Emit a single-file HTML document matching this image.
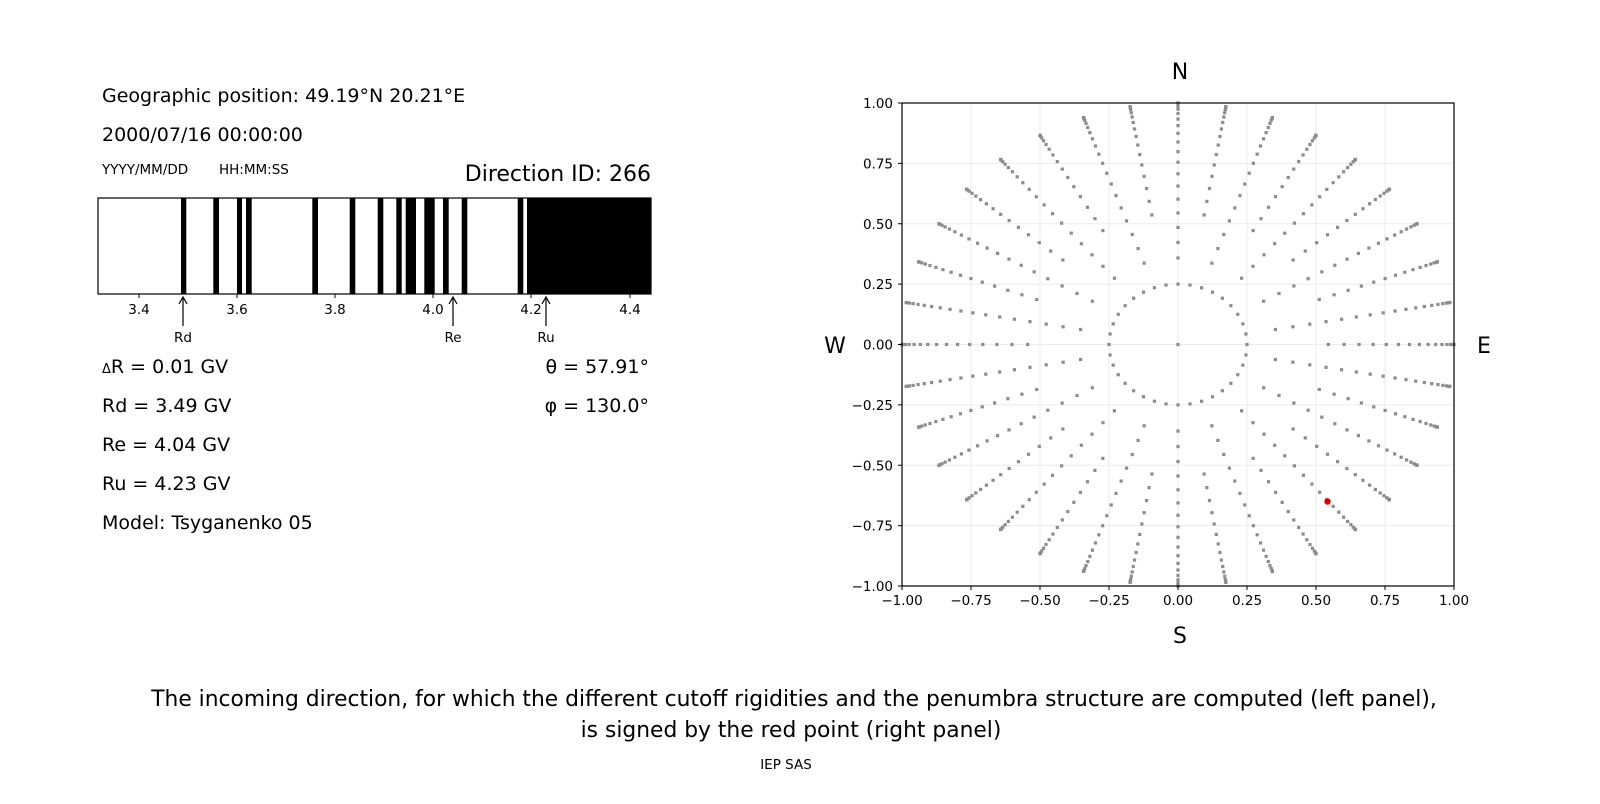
<!DOCTYPE html>
<html><head><meta charset="utf-8"><style>
body{margin:0;background:#fff;width:1600px;height:800px;overflow:hidden;font-family:"DejaVu Sans","Liberation Sans",sans-serif}
</style></head><body>
<svg id="s" width="1600" height="800" xmlns="http://www.w3.org/2000/svg" font-family="DejaVu Sans, Liberation Sans, sans-serif">
<text x="102" y="102" font-size="19">Geographic position: 49.19°N 20.21°E</text>
<text x="102" y="141" font-size="19">2000/07/16 00:00:00</text>
<text x="102" y="174" font-size="13.5">YYYY/MM/DD</text>
<text x="219" y="174" font-size="13.5">HH:MM:SS</text>
<text x="651" y="181" font-size="22" text-anchor="end">Direction ID: 266</text>
<g id="bands" fill="#000"></g>
<rect x="98" y="198" width="553" height="96" fill="none" stroke="#000" stroke-width="1.2"/>
<g font-size="13.5" text-anchor="middle">
<line x1="139" y1="294" x2="139" y2="298" stroke="#000"/><text x="139" y="314">3.4</text>
<line x1="237" y1="294" x2="237" y2="298" stroke="#000"/><text x="237" y="314">3.6</text>
<line x1="335" y1="294" x2="335" y2="298" stroke="#000"/><text x="335" y="314">3.8</text>
<line x1="433" y1="294" x2="433" y2="298" stroke="#000"/><text x="433" y="314">4.0</text>
<line x1="531" y1="294" x2="531" y2="298" stroke="#000"/><text x="531" y="314">4.2</text>
<line x1="630" y1="294" x2="630" y2="298" stroke="#000"/><text x="630" y="314">4.4</text>
<g stroke="#000" stroke-width="1.2" fill="none">
<path d="M183 326V297M179 304L183 297L187 304"/>
<path d="M453 326V297M449 304L453 297L457 304"/>
<path d="M546 326V297M542 304L546 297L550 304"/>
</g>
<text x="183" y="342">Rd</text><text x="453" y="342">Re</text><text x="546" y="342">Ru</text>
</g>
<g font-size="19">
<text x="102" y="373"><tspan font-size="13">Δ</tspan>R = 0.01 GV</text>
<text x="102" y="412">Rd = 3.49 GV</text>
<text x="102" y="451">Re = 4.04 GV</text>
<text x="102" y="490">Ru = 4.23 GV</text>
<text x="102" y="529">Model: Tsyganenko 05</text>
<text x="649" y="373" text-anchor="end">θ = 57.91°</text>
<text x="649" y="412" text-anchor="end">φ = 130.0°</text>
</g>
<g id="grid" stroke="#ebebeb" stroke-width="1"></g>
<g id="pts" fill="#8c8c8c"></g>
<circle cx="1327.5" cy="501.5" r="3.2" fill="#e00000"/>
<rect x="902" y="103" width="552" height="483" fill="none" stroke="#000" stroke-width="1.2"/>
<g id="ticks" font-size="13.5"></g>
<g font-size="22" text-anchor="middle">
<text x="1180" y="79">N</text><text x="1180" y="643">S</text>
<text x="835" y="353">W</text><text x="1484" y="353">E</text>
</g>
<text x="794" y="706" font-size="21.8" text-anchor="middle">The incoming direction, for which the different cutoff rigidities and the penumbra structure are computed (left panel),</text>
<text x="791" y="737" font-size="21.8" text-anchor="middle">is signed by the red point (right panel)</text>
<text x="786" y="769" font-size="13.5" text-anchor="middle">IEP SAS</text>
</svg>
<script>
var NS="http://www.w3.org/2000/svg";
function el(p,t,a,txt){var e=document.createElementNS(NS,t);for(var k in a)e.setAttribute(k,a[k]);if(txt)e.textContent=txt;document.getElementById(p).appendChild(e);}
[[181,186.3],[213.3,219],[237,242],[246,251.7],[312.3,318],[349.7,355.3],[377.7,383.3],[396.3,401.7],[405.7,416],[424.3,434.7],[443,448.7],[461.7,467.3],[517.7,523.3],[527,651]].forEach(function(b){el("bands","rect",{x:b[0],y:198,width:b[1]-b[0],height:96});});
var cx=1178,cy=344.5,sx=276,sy=241.5;
var labs=["−1.00","−0.75","−0.50","−0.25","0.00","0.25","0.50","0.75","1.00"];
for(var i=0;i<9;i++){var v=-1+i*0.25;var X=cx+v*sx,Y=cy-v*sy;
if(i>0&&i<8){el("grid","line",{x1:X,y1:103,x2:X,y2:586});el("grid","line",{x1:902,y1:Y,x2:1454,y2:Y});}
el("ticks","line",{x1:X,y1:586,x2:X,y2:590,stroke:"#000"});
el("ticks","text",{x:X,y:605,"text-anchor":"middle"},labs[i]);
el("ticks","line",{x1:898,y1:Y,x2:902,y2:Y,stroke:"#000"});
el("ticks","text",{x:893,y:Y+5,"text-anchor":"end"},labs[i]);}
function P(x,y){el("pts","rect",{x:cx+x*sx-1.6,y:cy-y*sy-1.6,width:3.2,height:3.2});}
P(0,0);
for(var a=0;a<360;a+=10){var r=Math.PI/180*a;P(0.25*Math.sin(r),0.25*Math.cos(r));}
for(var a=0;a<360;a+=10){var t=Math.PI/180*a;
for(var z=21;z<=90;z+=4){var rr=Math.sin(z*Math.PI/180);if(z>88)rr=1;
if(z<33&&(a%20)!=0)continue;
P(rr*Math.sin(t),rr*Math.cos(t));}
P(Math.sin(t),Math.cos(t));}
</script>
</body></html>
